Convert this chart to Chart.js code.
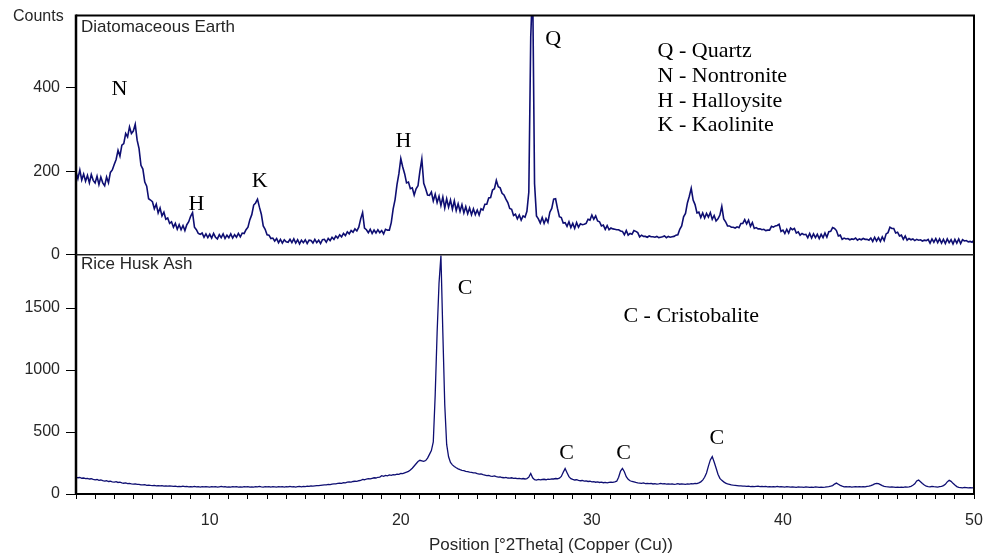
<!DOCTYPE html>
<html><head><meta charset="utf-8">
<script src="https://cdn.jsdelivr.net/npm/chart.js@4.4.1/dist/chart.umd.min.js"></script>
<style>html,body{margin:0;padding:0;background:#fff}canvas{display:block}</style>
</head><body>
<canvas id="c" width="984" height="559"></canvas>
<script>
// ---- data ----
const xStart = 3.0;      // first position, °2Theta
const xStep = 0.1;       // sampling step, °2Theta

// Diatomaceous Earth counts, 3.0 ... 50.0 every 0.1°
const deCounts = [
198,182,203,179,193,176,190,172,192,178,
172,188,168,186,172,165,186,172,197,203,
216,228,250,236,262,266,290,282,306,290,
296,312,274,254,214,205,174,164,134,131,
127,110,121,100,112,93,102,85,88,75,
79,66,75,61,72,60,70,58,72,79,
92,101,66,60,51,49,52,42,50,41,
49,40,51,42,38,48,41,50,39,47,
41,50,40,48,42,51,43,52,51,60,
66,84,96,119,124,133,114,97,69,61,
48,47,39,40,33,39,29,37,28,36,
31,30,37,29,38,28,36,26,35,29,
36,27,35,34,28,37,29,35,27,36,
37,30,39,34,42,37,45,40,48,43,
51,46,55,50,58,54,62,57,66,86,
101,64,60,53,61,51,59,52,60,53,
58,50,61,59,59,77,110,132,168,194,
230,210,194,172,174,158,160,143,158,165,
200,229,171,158,143,142,150,129,145,125,
140,118,138,112,134,114,131,109,129,106,
122,104,120,100,115,98,112,96,110,96,
107,95,110,107,121,121,136,137,155,158,
178,163,160,147,143,133,125,111,109,94,
97,86,95,83,93,90,104,150,520,650,
170,93,86,76,89,75,87,78,102,111,
133,134,111,91,89,76,77,68,79,65,
75,63,77,66,74,72,73,75,85,83,
95,85,93,81,79,69,71,61,70,60,
64,62,61,60,60,57,56,48,58,47,
51,49,58,56,53,43,47,44,44,42,
45,43,43,42,44,41,42,43,45,41,
44,42,43,44,47,48,61,69,91,99,
124,140,159,131,120,100,102,89,100,88,
99,90,101,85,94,81,86,95,116,86,
79,69,69,66,66,64,67,65,75,75,
84,74,83,68,77,63,65,62,62,60,
61,58,59,59,68,66,69,70,73,56,
59,51,61,52,64,60,63,52,55,47,
51,48,49,41,51,40,50,41,49,39,
49,41,52,42,55,56,65,63,58,45,
47,37,40,38,39,36,38,37,40,35,
38,36,39,37,37,35,40,32,42,33,
41,32,43,34,50,53,66,63,63,52,
54,45,47,37,45,35,39,36,38,34,
37,35,36,33,35,34,37,28,38,30,
39,29,38,28,37,27,38,29,36,26,
37,28,38,27,36,33,34,31,32,30,
35];

// Rice Husk Ash counts, 3.0 ... 50.0 every 0.1°
const rhaCounts = [
136,131,133,127,129,124,126,121,123,118,
114,117,110,113,108,104,107,101,103,98,
96,99,93,95,90,87,89,84,86,82,
79,81,77,78,74,73,75,70,72,69,
68,70,66,68,65,67,64,66,63,65,
63,61,64,60,62,59,63,60,61,58,
60,57,61,58,59,56,60,57,59,58,
56,60,57,59,55,58,61,57,59,56,
58,55,59,57,60,56,58,55,59,57,
60,56,58,55,59,57,61,58,56,59,
57,60,56,59,58,55,60,57,59,56,
59,57,61,58,60,56,59,62,58,61,
60,63,61,65,64,66,68,67,70,72,
74,73,77,76,80,82,81,85,87,86,
92,90,95,97,96,101,103,102,107,109,
118,115,121,124,122,127,131,129,135,137,
148,143,150,147,154,151,157,155,160,158,
166,164,170,176,183,193,208,226,244,262,
272,268,263,270,290,320,350,420,800,1300,
1700,1925,1300,720,400,300,255,235,222,212,
203,196,191,188,183,180,176,175,170,171,
164,160,162,156,153,149,150,145,143,146,
140,136,138,133,131,134,129,128,131,126,
127,124,126,122,125,121,124,136,166,131,
116,112,118,114,117,119,115,120,118,122,
121,125,123,128,142,175,205,172,140,124,
118,113,115,110,107,109,104,106,101,103,
98,100,95,97,93,95,91,94,90,93,
96,94,98,103,135,185,206,180,140,118,
107,101,97,93,90,88,86,89,84,86,
83,85,81,84,80,82,85,81,83,80,
82,79,81,78,80,83,79,82,80,78,
81,79,83,82,86,84,90,98,112,135,
170,225,275,302,258,210,160,126,110,98,
88,82,78,74,71,69,67,65,66,63,
64,61,63,60,62,59,61,63,60,62,
59,61,58,60,57,60,58,61,57,59,
58,56,59,57,55,58,56,54,57,55,
56,54,57,55,53,56,54,57,55,53,
56,54,55,57,59,63,68,80,88,79,
70,63,58,60,57,59,56,58,60,57,
59,57,60,58,61,63,67,74,82,86,
84,76,68,62,59,57,55,58,56,54,
55,53,56,54,57,55,58,62,70,82,
105,112,98,84,72,63,60,58,61,59,
58,56,59,62,68,78,98,110,102,86,
72,60,54,52,50,53,51,49,52,50,
51];

const xTickLabels = [10, 20, 30, 40, 50];
const deTickValues = [0, 200, 400];
const rhaTickValues = [0, 500, 1000, 1500];
const panelNames = ['Diatomaceous Earth', 'Rice Husk Ash'];
const xAxisTitle = 'Position [°2Theta] (Copper (Cu))';
const yAxisTitle = 'Counts';

// ---- derived tables ----
function toPoints(arr){ return arr.map((v,i)=>({x:+(xStart + i*xStep).toFixed(2), y:v})); }
const minorX = []; for (let v = 3; v <= 50; v++) minorX.push(v);

// text annotations (anchored in data coordinates)
const deMarks = [
  {t:'N', x:5.28, y:382}, {t:'H', x:9.30, y:108}, {t:'K', x:12.61, y:162},
  {t:'H', x:20.14, y:257}, {t:'Q', x:27.97, y:501}
];
const deKey = ['Q - Quartz', 'N - Nontronite', 'H - Halloysite', 'K - Kaolinite'];
const rhaMarks = [
  {t:'C', x:23.36, y:1617}, {t:'C', x:28.68, y:282}, {t:'C', x:31.66, y:282}, {t:'C', x:36.54, y:400}
];
const rhaKey = ['C - Cristobalite'];

const SANS = '"Liberation Sans", Arial, sans-serif';
const SERIF = '"Liberation Serif", "Times New Roman", serif';
const LINE = '#0e0e72';

const decor = {
  id: 'decor',
  afterDatasetsDraw(chart){
    const {ctx, chartArea:a, scales} = chart;
    const x = scales.x, yT = scales.yDE, yB = scales.yRHA;
    ctx.save();
    // frame
    ctx.strokeStyle = '#000';
    ctx.lineWidth = 2;
    ctx.beginPath();
    ctx.moveTo(a.left, a.top); ctx.lineTo(a.right, a.top);
    ctx.lineTo(a.right, a.bottom); ctx.lineTo(a.left, a.bottom);
    ctx.stroke();
    ctx.lineWidth = 2.5;
    ctx.beginPath(); ctx.moveTo(a.left, a.top - 1); ctx.lineTo(a.left, a.bottom + 1); ctx.stroke();
    // divider
    ctx.lineWidth = 1.5; ctx.strokeStyle = '#1a1a1a';
    ctx.beginPath(); ctx.moveTo(a.left, yT.bottom); ctx.lineTo(a.right, yT.bottom); ctx.stroke();

    // sans texts
    ctx.fillStyle = '#262626';
    ctx.textBaseline = 'alphabetic';
    ctx.textAlign = 'left';
    ctx.font = '17px ' + SANS;
    ctx.fillText(panelNames[0], a.left + 5, yT.top + 16);
    ctx.fillText(panelNames[1], a.left + 5, yB.top + 14);
    ctx.font = '16px ' + SANS;
    ctx.fillText(yAxisTitle, 13, 21);
    ctx.font = '17px ' + SANS;
    ctx.textAlign = 'center';
    ctx.fillText(xAxisTitle, (a.left + a.right) / 2 + 26, 550);

    // serif annotations
    ctx.fillStyle = '#000';
    ctx.font = '22px ' + SERIF;
    ctx.textAlign = 'center';
    for (const m of deMarks) ctx.fillText(m.t, x.getPixelForValue(m.x), yT.getPixelForValue(m.y));
    for (const m of rhaMarks) ctx.fillText(m.t, x.getPixelForValue(m.x), yB.getPixelForValue(m.y));
    ctx.textAlign = 'left';
    const kx = x.getPixelForValue(33.44), ky = yT.getPixelForValue(472);
    deKey.forEach((s,i)=> ctx.fillText(s, kx, ky + i*24.6));
    ctx.fillText(rhaKey[0], x.getPixelForValue(31.65), yB.getPixelForValue(1388));
    ctx.restore();
  }
};

const tickFont = {family: SANS, size: 16};
const plain = v => String(v);

new Chart(document.getElementById('c'), {
  type: 'line',
  data: {
    datasets: [
      {label: panelNames[0], data: toPoints(deCounts), xAxisID: 'x', yAxisID: 'yDE',
       borderColor: LINE, borderWidth: 1.6, pointRadius: 0, tension: 0, fill: false},
      {label: panelNames[1], data: toPoints(rhaCounts), xAxisID: 'x', yAxisID: 'yRHA',
       borderColor: LINE, borderWidth: 1.3, pointRadius: 0, tension: 0, fill: false}
    ]
  },
  options: {
    responsive: false, animation: false, devicePixelRatio: 1,
    layout: {padding: {top: 15, right: 0, left: 0, bottom: 0}},
    plugins: {legend: {display: false}, tooltip: {enabled: false}},
    scales: {
      x: {
        type: 'linear', min: 3, max: 50, position: 'bottom',
        afterBuildTicks: s => { s.ticks = minorX.map(v => ({value: v})); },
        ticks: {autoSkip: false, maxRotation: 0, padding: 12, font: tickFont, color: '#262626',
                callback: v => xTickLabels.includes(v) ? String(v) : ''},
        grid: {drawOnChartArea: false, drawTicks: true, tickLength: 5, color: '#000', lineWidth: 1},
        border: {display: false},
        afterFit: s => { s.height = 65; s.paddingRight = 10; s.paddingLeft = 0; }
      },
      yDE: {
        type: 'linear', min: 0, max: 572, position: 'left', stack: 'xrd', stackWeight: 1, weight: 2,
        afterBuildTicks: s => { s.ticks = deTickValues.map(v => ({value: v})); },
        ticks: {padding: 6, font: tickFont, color: '#262626', callback: plain},
        grid: {drawOnChartArea: false, tickLength: 10, color: '#000'},
        border: {display: false},
        afterFit: s => { s.width = 76; }
      },
      yRHA: {
        type: 'linear', min: 0, max: 1930, position: 'left', stack: 'xrd', stackWeight: 1, weight: 1,
        afterBuildTicks: s => { s.ticks = rhaTickValues.map(v => ({value: v})); },
        ticks: {padding: 6, font: tickFont, color: '#262626', callback: plain},
        grid: {drawOnChartArea: false, tickLength: 10, color: '#000'},
        border: {display: false},
        afterFit: s => { s.width = 76; }
      }
    }
  },
  plugins: [decor]
});
</script>
</body></html>
